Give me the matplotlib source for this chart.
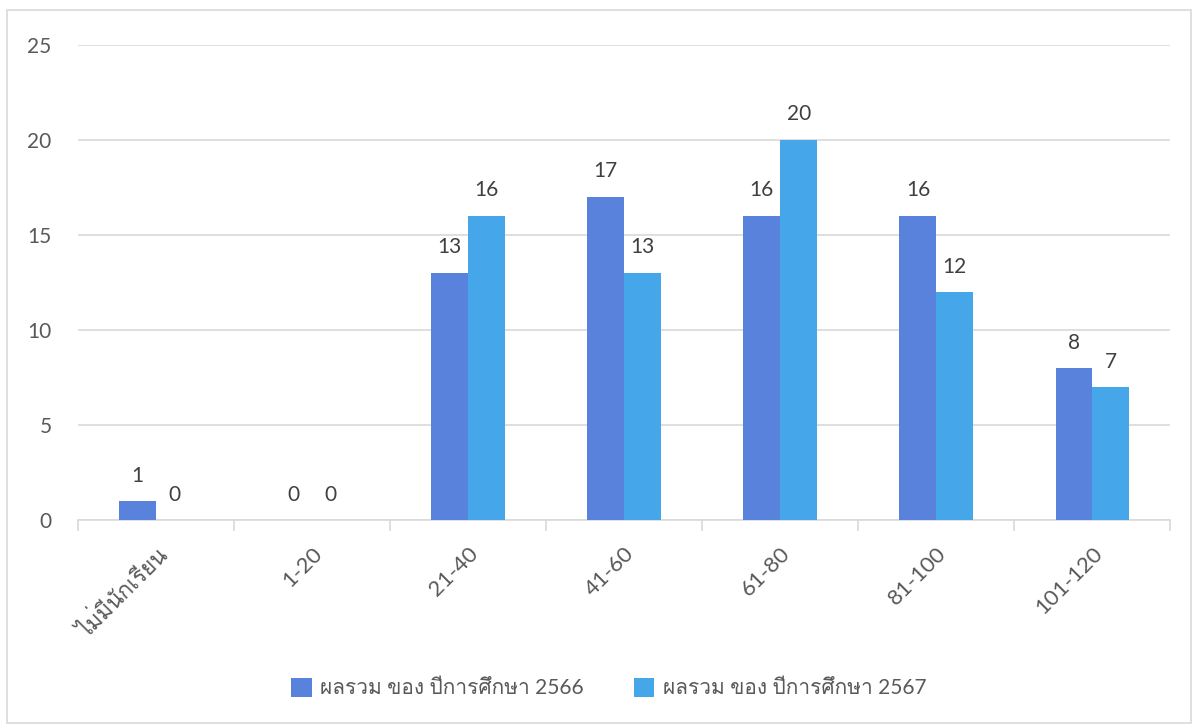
import matplotlib
matplotlib.use("Agg")
import numpy as np
import matplotlib.pyplot as plt
from matplotlib import font_manager, ft2font

categories = ["ไม่มีนักเรียน", "1-20", "21-40", "41-60", "61-80", "81-100", "101-120"]
series_names = ["ผลรวม ของ ปีการศึกษา 2566", "ผลรวม ของ ปีการศึกษา 2567"]
values_2566 = [1, 0, 13, 17, 16, 16, 8]
values_2567 = [0, 0, 16, 13, 20, 12, 7]
yticks = [0, 5, 10, 15, 20, 25]

COLORS = ["#5882DC", "#45A6EA"]
TEXT = "#595959"
GRID = "#D9D9D9"


def find_thai_font():
    # first installed family that has Thai glyphs
    for f in font_manager.fontManager.ttflist:
        try:
            cmap = ft2font.FT2Font(f.fname).get_charmap()
        except Exception:
            continue
        if 0x0E1C in cmap and 0x0E35 in cmap:
            return f.name
    return None


thai = find_thai_font()
fams = ["Lato"]
if thai:
    fams.append(thai)
fams.append("DejaVu Sans")
plt.rcParams["font.family"] = fams

fig = plt.figure(figsize=(11.98, 7.26), dpi=100)
ax = fig.add_axes([0.065, 0.2837, 0.912, 0.655])

x = np.arange(len(categories))
w = 0.236
b1 = ax.bar(x - w / 2, values_2566, w, color=COLORS[0], label=series_names[0], zorder=3)
b2 = ax.bar(x + w / 2, values_2567, w, color=COLORS[1], label=series_names[1], zorder=3)

for bars in (b1, b2):
    for r in bars:
        h = r.get_height()
        ax.annotate(f"{int(h)}", (r.get_x() + r.get_width() / 2, h),
                    xytext=(0, 11), textcoords="offset points",
                    ha="center", va="bottom", fontsize=15, color="#404040")

ax.set_xlim(-0.5, len(categories) - 0.5)
ax.set_ylim(0, 25)
ax.set_yticks(yticks)
ax.yaxis.grid(True, color=GRID, linewidth=1.2, zorder=0)
ax.tick_params(axis="y", length=0, labelsize=15, labelcolor=TEXT, pad=19)

ax.set_xticks(x)
ax.set_xticklabels(categories, rotation=45, ha="right", rotation_mode="anchor",
                   fontsize=16, color=TEXT)
ax.set_xticks(np.arange(len(categories) + 1) - 0.5, minor=True)
ax.tick_params(axis="x", which="major", length=0, pad=17)
ax.tick_params(axis="x", which="minor", length=8, color=GRID, width=1.2)

for s in ["top", "right", "left"]:
    ax.spines[s].set_visible(False)
ax.spines["bottom"].set_color(GRID)
ax.spines["bottom"].set_linewidth(1.2)

leg = fig.legend(loc="center", bbox_to_anchor=(0.508, 0.052), ncol=2, frameon=False,
                 fontsize=15, handlelength=1.0, handleheight=1.0, columnspacing=2.4,
                 handletextpad=0.4)
for t in leg.get_texts():
    t.set_color(TEXT)

fig.patches.append(plt.Rectangle((0.006, 0.004), 0.988, 0.982, transform=fig.transFigure,
                                 fill=False, edgecolor=GRID, linewidth=1.2))

fig.savefig("out.png", dpi=100)
